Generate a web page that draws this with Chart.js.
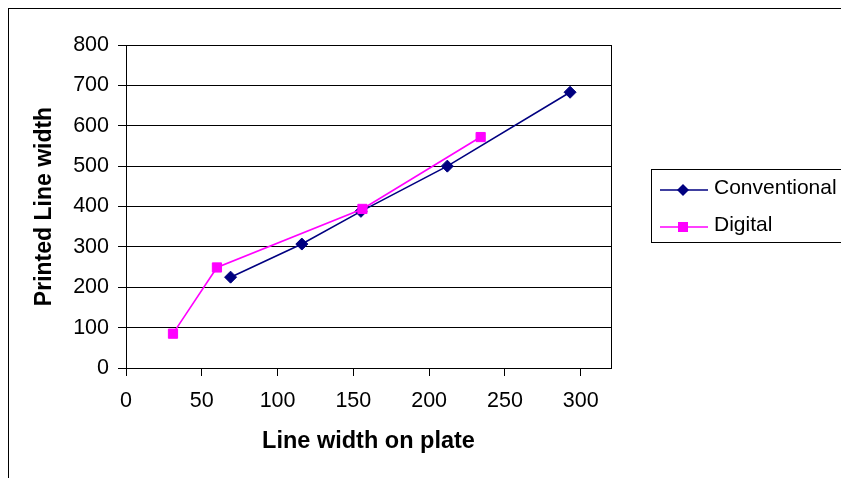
<!DOCTYPE html>
<html>
<head>
<meta charset="utf-8">
<script src="https://cdn.jsdelivr.net/npm/chart.js@4.4.1/dist/chart.umd.min.js"></script>
<style>
  html, body { margin: 0; padding: 0; background: #fff; }
  #wrap { width: 841px; height: 478px; }
</style>
</head>
<body>
<div id="wrap"><canvas id="c" width="841" height="478"></canvas></div>
<script>
// Plate line width vs. printed line width
const conventionalX = [69, 116, 155, 212, 293];
const conventionalY = [225, 307, 388, 500, 683];
const digitalX = [31, 60, 156, 234];
const digitalY = [85, 249, 394, 572];
const seriesNames = ['Conventional', 'Digital'];
const xTickValues = [0, 50, 100, 150, 200, 250, 300];
const yTickValues = [0, 100, 200, 300, 400, 500, 600, 700, 800];

const FONT = "'Liberation Sans', Arial, sans-serif";
const NAVY = '#000080';
const MAGENTA = '#FF00FF';

const toPoints = (xs, ys) => xs.map((x, i) => ({ x, y: ys[i] }));

// Frame, plot border and boxed legend
const decorations = {
  id: 'decorations',
  beforeDraw(chart) {
    const ctx = chart.ctx;
    ctx.save();
    ctx.fillStyle = '#fff';
    ctx.fillRect(0, 0, chart.width, chart.height);
    ctx.strokeStyle = '#000';
    ctx.lineWidth = 1;
    ctx.strokeRect(8.5, 8.5, chart.width + 20, chart.height + 20);
    ctx.restore();
  },
  afterDraw(chart) {
    const ctx = chart.ctx;
    const a = chart.chartArea;
    ctx.save();
    ctx.strokeStyle = '#000';
    ctx.lineWidth = 1;
    ctx.beginPath();
    ctx.moveTo(Math.round(a.right) + 0.5, a.top);
    ctx.lineTo(Math.round(a.right) + 0.5, a.bottom);
    ctx.stroke();

    // legend box
    ctx.strokeRect(651.5, 169.5, 220, 73);
    const rows = [190, 227];
    chart.data.datasets.slice().sort((p, q) => seriesNames.indexOf(p.label) - seriesNames.indexOf(q.label))
      .forEach((ds, i) => {
        const y = rows[i];
        ctx.strokeStyle = ds.borderColor;
        ctx.lineWidth = 1.5;
        ctx.beginPath();
        ctx.moveTo(660, y);
        ctx.lineTo(708, y);
        ctx.stroke();
        ctx.fillStyle = ds.pointBackgroundColor;
        if (ds.pointStyle === 'rectRot') {
          const r = 6;
          ctx.beginPath();
          ctx.moveTo(683 - r, y);
          ctx.lineTo(683, y - r);
          ctx.lineTo(683 + r, y);
          ctx.lineTo(683, y + r);
          ctx.closePath();
          ctx.fill();
        } else {
          ctx.fillRect(678, y - 5, 10, 10);
        }
        ctx.fillStyle = '#000';
        ctx.font = '21px ' + FONT;
        ctx.textBaseline = 'middle';
        ctx.textAlign = 'left';
        ctx.fillText(ds.label, 714, y - 2);
      });
    ctx.restore();
  }
};

new Chart(document.getElementById('c'), {
  type: 'scatter',
  data: {
    datasets: [
      {
        label: seriesNames[0],
        data: toPoints(conventionalX, conventionalY),
        showLine: true,
        borderColor: NAVY,
        backgroundColor: NAVY,
        pointBackgroundColor: NAVY,
        pointBorderColor: NAVY,
        borderWidth: 1.6,
        pointStyle: 'rectRot',
        pointRadius: 6,
        pointBorderWidth: 1,
        order: 1
      },
      {
        label: seriesNames[1],
        data: toPoints(digitalX, digitalY),
        showLine: true,
        borderColor: MAGENTA,
        backgroundColor: MAGENTA,
        pointBackgroundColor: MAGENTA,
        pointBorderColor: MAGENTA,
        borderWidth: 1.6,
        pointStyle: 'rect',
        pointRadius: 6.5,
        pointBorderWidth: 1,
        order: 0
      }
    ]
  },
  options: {
    responsive: false,
    animation: false,
    layout: { padding: { left: 0, top: 45, right: 230, bottom: 0 } },
    plugins: {
      legend: { display: false },
      tooltip: { enabled: false }
    },
    scales: {
      x: {
        type: 'linear',
        min: 0,
        max: 320,
        afterBuildTicks(scale) {
          scale.ticks = xTickValues.map(v => ({ value: v }));
        },
        afterFit(scale) { scale.height = 110; },
        ticks: {
          color: '#000',
          font: { family: FONT, size: 21.5 },
          padding: 12,
          maxRotation: 0
        },
        grid: {
          drawOnChartArea: false,
          drawTicks: true,
          tickLength: 8,
          color: '#000',
          lineWidth: 1
        },
        border: { display: true, color: '#000', width: 1 },
        title: {
          display: true,
          text: 'Line width on plate',
          color: '#000',
          font: { family: FONT, size: 23.5, weight: 'bold' },
          padding: { top: 0, bottom: 22 }
        }
      },
      y: {
        type: 'linear',
        min: 0,
        max: 800,
        afterBuildTicks(scale) {
          scale.ticks = yTickValues.map(v => ({ value: v }));
        },
        afterFit(scale) { scale.width = 126; },
        ticks: {
          color: '#000',
          font: { family: FONT, size: 21.5 },
          padding: 9
        },
        grid: {
          drawOnChartArea: true,
          drawTicks: true,
          tickLength: 8,
          color: '#000',
          lineWidth: 1
        },
        border: { display: true, color: '#000', width: 1 },
        title: {
          display: true,
          text: 'Printed Line width',
          color: '#000',
          font: { family: FONT, size: 23, weight: 'bold' },
          padding: { top: 31, bottom: 0 }
        }
      }
    }
  },
  plugins: [decorations]
});
</script>
</body>
</html>
